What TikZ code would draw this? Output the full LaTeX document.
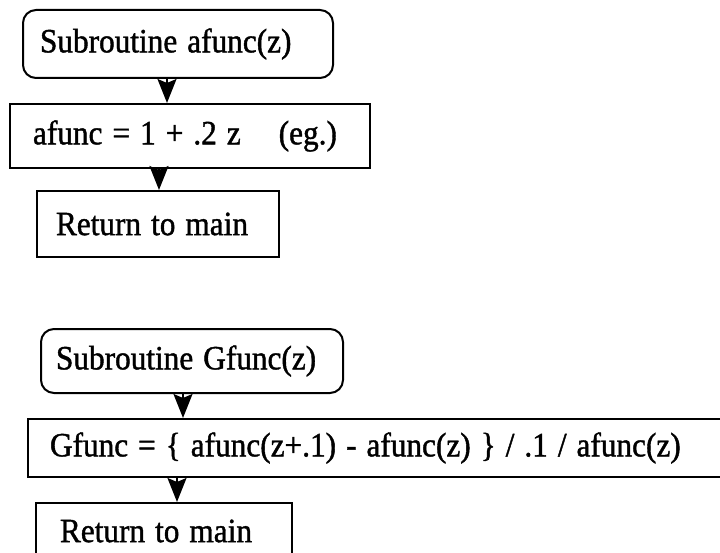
\documentclass[tikz,border=0pt]{standalone}
\usepackage{fontspec}
\setmainfont[FakeStretch=0.92,FakeBold=1.2]{Liberation Serif}
\usetikzlibrary{arrows.meta}
\newcommand\myboxfont{\fontsize{34}{38}\selectfont}
\newcommand\tightsp{\spaceskip=10pt\relax}
\tikzset{
  box/.style={draw, line width=2pt, rectangle, inner ysep=0pt, align=left,
    anchor=north west, font=\myboxfont},
  rbox/.style={box, rounded corners=13pt},
  arr/.style={line width=2pt, -{Stealth[length=24pt,width=19pt,inset=4pt]}}
}
\begin{document}
\begin{tikzpicture}[x=1pt,y=-1pt]
\useasboundingbox (0,0) rectangle (720,553);
\clip (0,0) rectangle (720,553);
% first flowchart
\node[rbox, minimum height=68pt, text width=276pt, inner xsep=17pt] (s1) at (22,9) {\tightsp Subroutine afunc(z)};
\node[box, minimum height=64pt, text width=314pt, inner xsep=23pt] (a1) at (9,103) {\tightsp afunc = 1 + .2 z\hspace{38pt}(eg.)};
\node[box, minimum height=66pt, text width=204pt, inner xsep=19pt] (r1) at (36,190) {\tightsp Return to main};
\coordinate (x1) at (167,0);
\coordinate (x2) at (159,0);
\draw[arr] (s1.south -| x1) -- (a1.north -| x1);
\draw[arr] (a1.south -| x2) -- (r1.north -| x2);
% second flowchart
\node[rbox, minimum height=64pt, text width=272pt, inner xsep=15pt] (s2) at (40,328) {\tightsp Subroutine Gfunc(z)};
\node[box, minimum height=58pt, text width=651pt, inner xsep=22pt] (g2) at (27,418) {\tightsp Gfunc = \{ afunc(z+.1) - afunc(z) \} / .1 / afunc(z)};
\node[box, minimum height=56pt, text width=208pt, inner xsep=24pt] (r2) at (35,502) {\tightsp Return to main};
\coordinate (x3) at (183,0);
\coordinate (x4) at (177,0);
\draw[arr] (s2.south -| x3) -- (g2.north -| x3);
\draw[arr] (g2.south -| x4) -- (r2.north -| x4);
\end{tikzpicture}
\end{document}
